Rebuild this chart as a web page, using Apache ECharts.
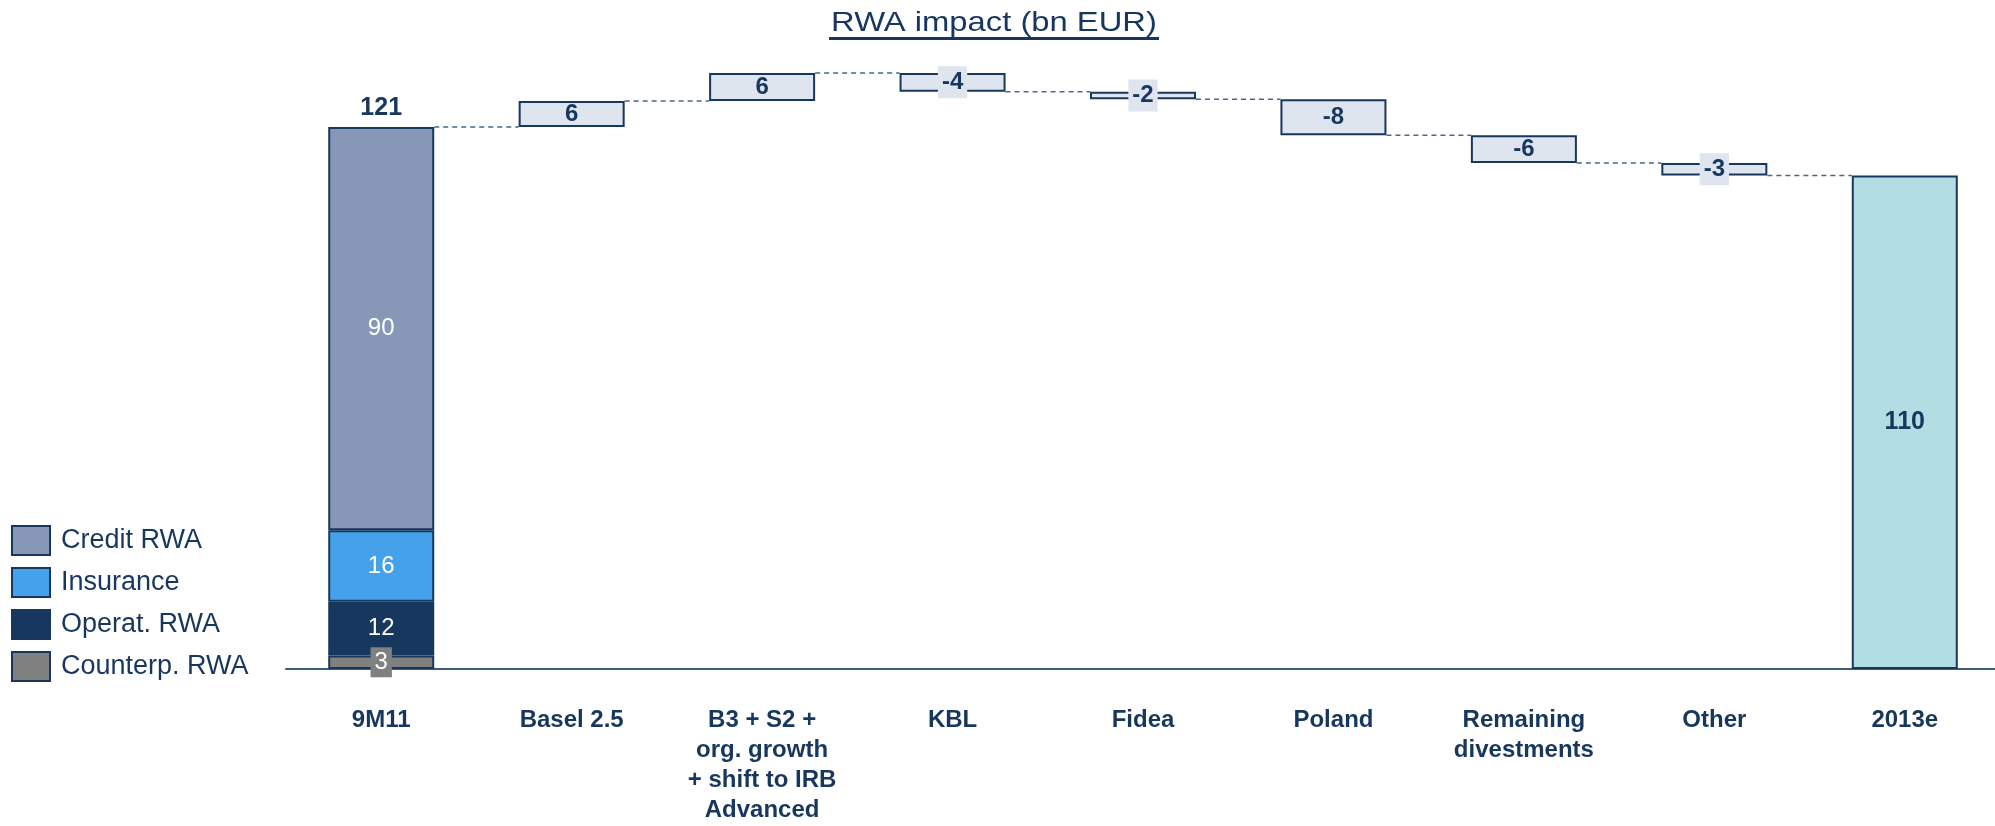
<!DOCTYPE html>
<html>
<head>
<meta charset="utf-8">
<title>RWA impact (bn EUR)</title>
<script src="https://cdn.jsdelivr.net/npm/echarts@6/dist/echarts.min.js"></script>
<style>
  html, body { margin: 0; padding: 0; background: #fff; }
  #chart { width: 1995px; height: 826px; }
</style>
</head>
<body>
<div id="chart"></div>
<script>
// data
const categories = ['9M11', 'Basel 2.5', 'B3 + S2 +\norg. growth\n+ shift to IRB\nAdvanced', 'KBL', 'Fidea', 'Poland', 'Remaining\ndivestments', 'Other', '2013e']
const segmentNames = ['Counterp. RWA', 'Operat. RWA', 'Insurance', 'Credit RWA']
const segmentValues = [3, 12, 16, 90]
const deltas = [5.8, 6.3, -4.2, -1.7, -8.0, -6.2, -2.8]
const endValue = 110.2

const NAVY = '#17375e'
const FONT = 'Liberation Sans, Arial, sans-serif'
const BAR_W = 106
const segmentColors = ['#808080', '#17375e', '#45a2ea', '#8797b7']

const n = categories.length
const startTotal = segmentValues.reduce((a, b) => a + b, 0)

// running levels after each step
const levels = [startTotal]
deltas.forEach((d, i) => levels.push(levels[i] + d))

const empty = () => new Array(n).fill('-')

const segmentSeries = segmentNames.map((name, i) => {
  const data = empty()
  data[0] = segmentValues[i]
  return {
    name: name,
    type: 'bar',
    stack: 'w',
    barWidth: BAR_W,
    data: data,
    itemStyle: { color: segmentColors[i], borderColor: NAVY, borderWidth: 2 },
    label: {
      show: true,
      position: 'inside',
      color: '#fff',
      fontSize: 24,
      fontFamily: FONT,
      backgroundColor: i === 0 ? '#808080' : 'transparent',
      padding: i === 0 ? [3, 4] : 0
    }
  }
})

const placeholder = empty()
const boxes = empty()
deltas.forEach((d, i) => {
  placeholder[i + 1] = Math.min(levels[i], levels[i + 1])
  const small = Math.abs(d) < 5
  boxes[i + 1] = {
    value: Math.abs(d),
    label: small ? { backgroundColor: '#dee5ef', padding: [4, 4] } : {}
  }
})

const finalData = empty()
finalData[n - 1] = endValue

const totalData = empty()
totalData[0] = startTotal

const connectorData = levels.map((v, i) => [i, v])

const chart = echarts.init(document.getElementById('chart'))
chart.setOption({
  backgroundColor: '#fff',
  animation: false,
  graphic: [
    {
      type: 'text',
      x: 994,
      y: 23,
      scaleX: 1.17,
      style: {
        text: 'RWA impact (bn EUR)',
        fill: NAVY,
        fontSize: 28,
        fontFamily: FONT,
        textAlign: 'center',
        textVerticalAlign: 'middle'
      }
    },
    {
      type: 'line',
      shape: { x1: 829, y1: 38.5, x2: 1159, y2: 38.5 },
      style: { stroke: NAVY, lineWidth: 3 }
    }
  ],
  legend: {
    orient: 'vertical',
    left: 11,
    top: 525,
    padding: 0,
    itemWidth: 38,
    itemHeight: 29,
    itemGap: 11,
    icon: 'rect',
    selectedMode: false,
    data: ['Credit RWA', 'Insurance', 'Operat. RWA', 'Counterp. RWA'],
    textStyle: { color: NAVY, fontSize: 27, fontFamily: FONT, padding: [0, 0, 0, 6] }
  },
  grid: {
    left: 286,
    width: 1714,
    top: 42,
    bottom: 157,
    outerBoundsMode: 'none'
  },
  xAxis: {
    type: 'category',
    data: categories,
    axisTick: { show: false },
    axisLine: { lineStyle: { color: '#3d5a80', width: 2 } },
    axisLabel: {
      interval: 0,
      margin: 36,
      color: NAVY,
      fontSize: 24,
      fontWeight: 'bold',
      fontFamily: FONT,
      lineHeight: 30
    }
  },
  yAxis: {
    type: 'value',
    min: 0,
    max: 140,
    show: false
  },
  series: segmentSeries.concat([
    {
      name: 'base',
      type: 'bar',
      stack: 'w',
      barWidth: BAR_W,
      data: placeholder,
      itemStyle: { color: 'transparent' },
      emphasis: { disabled: true }
    },
    {
      name: 'delta',
      type: 'bar',
      stack: 'w',
      barWidth: BAR_W,
      data: boxes,
      itemStyle: { color: '#dee5ef', borderColor: NAVY, borderWidth: 2 },
      label: {
        show: true,
        position: 'inside',
        color: NAVY,
        fontSize: 24,
        fontWeight: 'bold',
        fontFamily: FONT,
        formatter: p => String(Math.round(deltas[p.dataIndex - 1]))
      }
    },
    {
      name: '2013e',
      type: 'bar',
      stack: 'w',
      barWidth: BAR_W,
      data: finalData,
      itemStyle: { color: '#b1dde3', borderColor: NAVY, borderWidth: 2 },
      label: {
        show: true,
        position: 'inside',
        color: NAVY,
        fontSize: 25,
        fontWeight: 'bold',
        fontFamily: FONT,
        formatter: p => String(Math.round(p.value))
      }
    },
    {
      name: 'total',
      type: 'scatter',
      symbolSize: 0,
      data: totalData,
      itemStyle: { opacity: 1 },
      label: {
        show: true,
        position: 'top',
        distance: 6,
        color: NAVY,
        fontSize: 25,
        fontWeight: 'bold',
        fontFamily: FONT,
        formatter: p => String(Math.round(p.value))
      }
    },
    {
      name: 'connectors',
      type: 'custom',
      data: connectorData,
      encode: { x: 0, y: 1 },
      silent: true,
      z: 1,
      renderItem (params, api) {
        const p = api.coord([api.value(0), api.value(1)])
        const band = api.size([1, 0])[0]
        return {
          type: 'line',
          shape: { x1: p[0] + BAR_W / 2, y1: p[1], x2: p[0] + band - BAR_W / 2, y2: p[1] },
          style: { stroke: '#4a6788', lineWidth: 1.5, lineDash: [5, 4] }
        }
      }
    }
  ])
})
</script>
</body>
</html>
